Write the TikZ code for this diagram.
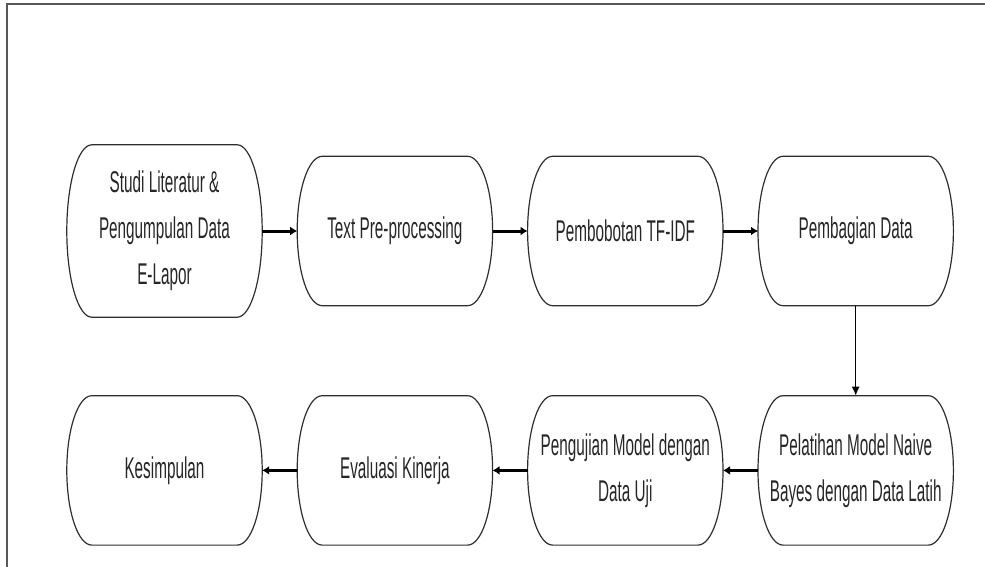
\documentclass[tikz,border=0pt]{standalone}
\usepackage{fontspec}
\newfontfamily\narrowsans[FakeStretch=0.51]{Liberation Sans}
\usepackage{tikz}
\usetikzlibrary{arrows.meta, positioning, calc}
\definecolor{garis}{HTML}{2E2E2E}
\definecolor{teks}{HTML}{262626}

\tikzset{
  tahap/.style={minimum width=195pt, minimum height=149pt, inner sep=0pt,
                align=center, text=teks,
                font=\narrowsans\fontsize{30pt}{46pt}\selectfont},
  panah/.style={draw=black, line width=3pt, -{Latex[length=7pt,width=9pt]}},
  panahtipis/.style={draw=black, line width=1.5pt, -{Latex[length=9pt,width=8pt]}},
  bingkai/.style={draw=garis!80, line width=1.5pt},
}

\begin{document}
\begin{tikzpicture}[node distance=35pt]
  \useasboundingbox (0,0) rectangle (985pt,-567pt);
  \draw[bingkai] (7pt,-567pt) -- (7pt,-4pt) -- (985pt,-4pt);

  % baris atas
  \node[tahap, minimum height=172pt] (lit) at (164.5pt,-231pt)
       {Studi Literatur \&\\ Pengumpulan Data\\ E-Lapor};
  \node[tahap, right=of lit] (pre) {Text Pre-processing};
  \node[tahap, right=of pre] (tfidf) {Pembobotan TF-IDF};
  \node[tahap, right=of tfidf] (bagi) {Pembagian Data};

  % baris bawah
  \node[tahap, below=90pt of bagi] (latih) {Pelatihan Model Naive\\ Bayes dengan Data Latih};
  \node[tahap, left=of latih] (uji) {Pengujian Model dengan\\ Data Uji};
  \node[tahap, left=of uji] (eval) {Evaluasi Kinerja};
  \node[tahap, left=of eval] (simpul) {Kesimpulan};

  % bentuk kotak dengan sisi melengkung
  \foreach \b in {lit, pre, tfidf, bagi, latih, uji, eval, simpul}
    \draw[garis, line width=1.2pt]
      let \p1=(\b.north west), \p2=(\b.south east), \n1={(\y1-\y2)/2} in
      (\x1+25pt,\y1) -- (\x2-25pt,\y1)
      arc[start angle=90, end angle=-90, x radius=25pt, y radius=\n1]
      -- (\x1+25pt,\y2)
      arc[start angle=270, end angle=90, x radius=25pt, y radius=\n1]
      -- cycle;

  \draw[panah] (lit) -- (pre);
  \draw[panah] (pre) -- (tfidf);
  \draw[panah] (tfidf) -- (bagi);
  \draw[panahtipis] (bagi) -- (latih);
  \draw[panah] (latih) -- (uji);
  \draw[panah] (uji) -- (eval);
  \draw[panah] (eval) -- (simpul);
\end{tikzpicture}
\end{document}
